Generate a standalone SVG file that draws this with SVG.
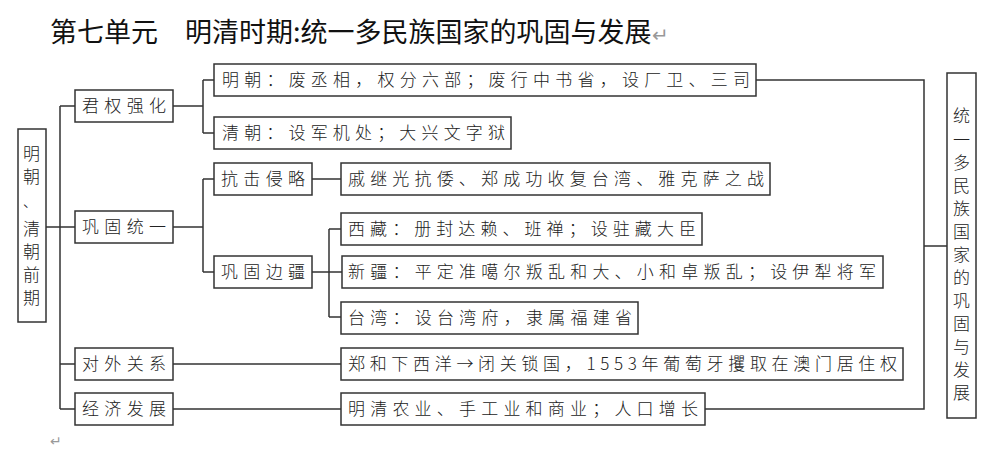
<svg xmlns="http://www.w3.org/2000/svg" width="1007" height="455" viewBox="0 0 1007 455">
<style>
.b{fill:#fff;stroke:#333;stroke-width:1.5}
.t{font-family:"Noto Sans CJK SC",sans-serif;font-size:17px;fill:#222;font-weight:300}
.c{fill:none;stroke:#333;stroke-width:1.5}
.ti{font-family:"Noto Sans CJK SC",sans-serif;font-size:27px;fill:#111}
</style>
<rect width="1007" height="455" fill="#fff"/>
<text class="ti" x="50" y="42">第七单元　明清时期:统一多民族国家的巩固与发展<tspan fill="#999" font-size="20">↵</tspan></text>
<text x="50" y="446" font-family="DejaVu Sans,sans-serif" font-size="14" fill="#999">↵</text>
<g id="connectors">
<path class="c" d="M46 227H60M60 106V409M60 106H75M60 227H75M60 364H75M60 409H75"/>
<path class="c" d="M173 106H203M203 80V133M203 80H214M203 133H214"/>
<path class="c" d="M173 227H203M203 179V272M203 179H214M203 272H214"/>
<path class="c" d="M312 179H341M312 272H342M329 229V317M329 229H341M329 317H341"/>
<path class="c" d="M173 364H341M173 409H341"/>
<path class="c" d="M756 80H924V409H705M924 246H947"/>
</g>
<g id="n0"><rect class="b" x="18" y="129" width="28" height="193"/><text class="t"><tspan x="23" y="160">明</tspan><tspan x="23" y="183">朝</tspan><tspan x="23" y="207" font-size="14">、</tspan><tspan x="23" y="235">清</tspan><tspan x="23" y="258">朝</tspan><tspan x="23" y="281">前</tspan><tspan x="23" y="304">期</tspan></text></g>
<g id="n1"><rect class="b" x="75" y="90" width="98" height="32"/><text class="t" x="82" y="112" textLength="84" lengthAdjust="spacing">君权强化</text></g>
<g id="n2"><rect class="b" x="75" y="211" width="98" height="32"/><text class="t" x="82" y="233" textLength="84" lengthAdjust="spacing">巩固统一</text></g>
<g id="n3"><rect class="b" x="75" y="348" width="98" height="32"/><text class="t" x="82" y="370" textLength="84" lengthAdjust="spacing">对外关系</text></g>
<g id="n4"><rect class="b" x="75" y="393" width="98" height="32"/><text class="t" x="82" y="415" textLength="84" lengthAdjust="spacing">经济发展</text></g>
<g id="n5"><rect class="b" x="214" y="64" width="542" height="32"/><text class="t" x="222" y="86" textLength="528" lengthAdjust="spacing">明朝：废丞相，权分六部；废行中书省，设厂卫、三司</text></g>
<g id="n6"><rect class="b" x="214" y="117" width="297" height="32"/><text class="t" x="222" y="139" textLength="283" lengthAdjust="spacing">清朝：设军机处；大兴文字狱</text></g>
<g id="n7"><rect class="b" x="214" y="163" width="98" height="32"/><text class="t" x="221" y="185" textLength="84" lengthAdjust="spacing">抗击侵略</text></g>
<g id="n8"><rect class="b" x="214" y="256" width="98" height="32"/><text class="t" x="221" y="278" textLength="84" lengthAdjust="spacing">巩固边疆</text></g>
<g id="n9"><rect class="b" x="341" y="163" width="429" height="32"/><text class="t" x="348" y="185" textLength="416" lengthAdjust="spacing">戚继光抗倭、郑成功收复台湾、雅克萨之战</text></g>
<g id="n10"><rect class="b" x="341" y="213" width="361" height="32"/><text class="t" x="348" y="235" textLength="348" lengthAdjust="spacing">西藏：册封达赖、班禅；设驻藏大臣</text></g>
<g id="n11"><rect class="b" x="342" y="256" width="541" height="32"/><text class="t" x="348" y="278" textLength="528" lengthAdjust="spacing">新疆：平定准噶尔叛乱和大、小和卓叛乱；设伊犁将军</text></g>
<g id="n12"><rect class="b" x="341" y="302" width="297" height="32"/><text class="t" x="348" y="324" textLength="284" lengthAdjust="spacing">台湾：设台湾府，隶属福建省</text></g>
<g id="n13"><rect class="b" x="341" y="348" width="562" height="32"/><text class="t" x="348" y="370" textLength="549" lengthAdjust="spacing">郑和下西洋→闭关锁国，1553年葡萄牙攫取在澳门居住权</text></g>
<g id="n14"><rect class="b" x="341" y="393" width="364" height="32"/><text class="t" x="348" y="415" textLength="350" lengthAdjust="spacing">明清农业、手工业和商业；人口增长</text></g>
<g id="n15"><rect class="b" x="947" y="73" width="29" height="345"/><text class="t"><tspan x="953" y="122">统</tspan><tspan x="953" y="146">一</tspan><tspan x="953" y="169">多</tspan><tspan x="953" y="192">民</tspan><tspan x="953" y="215">族</tspan><tspan x="953" y="238">国</tspan><tspan x="953" y="261">家</tspan><tspan x="953" y="284">的</tspan><tspan x="953" y="307">巩</tspan><tspan x="953" y="330">固</tspan><tspan x="953" y="353">与</tspan><tspan x="953" y="376">发</tspan><tspan x="953" y="399">展</tspan></text></g>
</svg>
